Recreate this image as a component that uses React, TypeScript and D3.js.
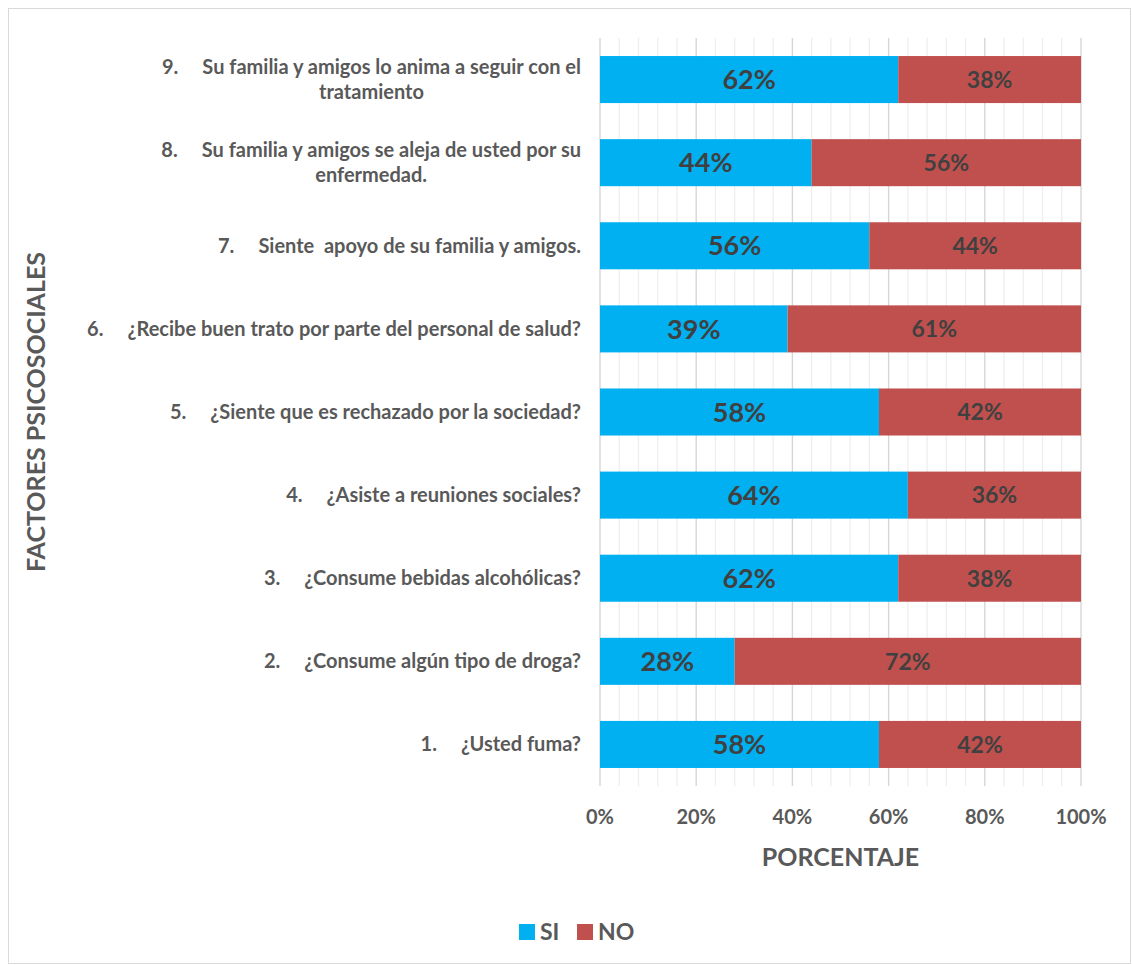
import React, { useEffect, useRef } from "react";
import * as d3 from "d3";

// items numbered 1..9 (bottom to top in the chart)
const itemNumbers = ["1.", "2.", "3.", "4.", "5.", "6.", "7.", "8.", "9."];
const itemLines: string[][] = [
  ["¿Usted fuma?"],
  ["¿Consume algún tipo de droga?"],
  ["¿Consume bebidas alcohólicas?"],
  ["¿Asiste a reuniones sociales?"],
  ["¿Siente que es rechazado por la sociedad?"],
  ["¿Recibe buen trato por parte del personal de salud?"],
  ["Siente  apoyo de su familia y amigos."],
  ["Su familia y amigos se aleja de usted por su", "enfermedad."],
  ["Su familia y amigos lo anima a seguir con el", "tratamiento"],
];
const siValues = [58, 28, 62, 64, 58, 39, 56, 44, 62];
const noValues = [42, 72, 38, 36, 42, 61, 44, 56, 38];
const seriesNames = ["SI", "NO"];
const seriesColors = ["#00B0F0", "#C0504D"];
const xTicks = [0, 20, 40, 60, 80, 100];

const FONT = "Lato, 'Open Sans', sans-serif";

// keep double spaces visible in svg text
const keepSpaces = (s: string) => s.replace(/ {2}/g, " \u00A0");

const App: React.FC = () => {
  const svgRef = useRef<SVGSVGElement | null>(null);

  useEffect(() => {
    const width = 1132;
    const height = 965;
    const plotLeft = 600;
    const plotRight = 1081;
    const plotTop = 38;
    const plotBottom = 786;

    const svg = d3.select(svgRef.current);
    svg.selectAll("*").remove();
    svg.attr("viewBox", [0, 0, width, height]).attr("width", width).attr("height", height);

    // frame
    svg
      .append("rect")
      .attr("x", 8.5)
      .attr("y", 8.5)
      .attr("width", width - 10)
      .attr("height", height - 10)
      .attr("fill", "white")
      .attr("stroke", "#d9d9d9");

    const x = d3.scaleLinear().domain([0, 100]).range([plotLeft, plotRight]);
    const y = d3
      .scaleBand()
      .domain(itemNumbers.slice().reverse())
      .range([plotTop, plotBottom])
      .paddingInner(0.434)
      .paddingOuter(0.217);

    // minor gridlines every 4%
    const minor = d3.range(0, 101, 4).filter((v) => v % 20 !== 0);
    svg
      .append("g")
      .selectAll("line")
      .data(minor)
      .enter()
      .append("line")
      .attr("x1", (d) => x(d))
      .attr("x2", (d) => x(d))
      .attr("y1", plotTop)
      .attr("y2", plotBottom)
      .attr("stroke", "#eeeeee")
      .attr("stroke-width", 1.3);

    // major gridlines
    svg
      .append("g")
      .selectAll("line")
      .data(xTicks)
      .enter()
      .append("line")
      .attr("x1", (d) => x(d))
      .attr("x2", (d) => x(d))
      .attr("y1", plotTop)
      .attr("y2", plotBottom)
      .attr("stroke", "#d6d6d6")
      .attr("stroke-width", 1.4);

    // bars
    const rows = itemNumbers.map((n, i) => ({ n, si: siValues[i], no: noValues[i] }));
    const bars = svg.append("g").selectAll(".bar").data(rows).enter().append("g").attr("class", "bar");

    bars
      .append("rect")
      .attr("x", x(0))
      .attr("y", (d) => y(d.n) as number)
      .attr("width", (d) => x(d.si) - x(0))
      .attr("height", y.bandwidth())
      .attr("fill", seriesColors[0]);

    bars
      .append("rect")
      .attr("x", (d) => x(d.si))
      .attr("y", (d) => y(d.n) as number)
      .attr("width", (d) => x(d.si + d.no) - x(d.si))
      .attr("height", y.bandwidth())
      .attr("fill", seriesColors[1]);

    // data labels
    bars
      .append("text")
      .attr("x", (d) => x(d.si / 2))
      .attr("y", (d) => (y(d.n) as number) + y.bandwidth() / 2)
      .attr("dy", "0.36em")
      .attr("text-anchor", "middle")
      .style("font", `bold 27px ${FONT}`)
      .attr("fill", "#404040")
      .text((d) => `${d.si}%`);

    bars
      .append("text")
      .attr("x", (d) => x(d.si + d.no / 2))
      .attr("y", (d) => (y(d.n) as number) + y.bandwidth() / 2)
      .attr("dy", "0.36em")
      .attr("text-anchor", "middle")
      .style("font", `bold 23px ${FONT}`)
      .attr("fill", "#404040")
      .text((d) => `${d.no}%`);

    // category labels
    const labelRight = 581;
    const labelG = svg
      .append("g")
      .style("font", `bold 20px ${FONT}`)
      .attr("fill", "#595959");
    itemNumbers.forEach((n, i) => {
      const lines = itemLines[i];
      const cy = (y(n) as number) + y.bandwidth() / 2;
      const lh = 25;
      const first = labelG
        .append("text")
        .attr("x", labelRight)
        .attr("y", cy - ((lines.length - 1) * lh) / 2)
        .attr("dy", "0.35em")
        .attr("text-anchor", "end");
      first.append("tspan").text(n);
      first.append("tspan").attr("dx", 24).text(keepSpaces(lines[0]));
      if (lines.length > 1) {
        const w = (first.node() as SVGTextElement).getComputedTextLength() + 24;
        const center = labelRight - w / 2;
        lines.slice(1).forEach((ln, k) => {
          labelG
            .append("text")
            .attr("x", center)
            .attr("y", cy - ((lines.length - 1) * lh) / 2 + (k + 1) * lh)
            .attr("dy", "0.35em")
            .attr("text-anchor", "middle")
            .text(keepSpaces(ln));
        });
      }
    });

    // x tick labels
    svg
      .append("g")
      .selectAll("text")
      .data(xTicks)
      .enter()
      .append("text")
      .attr("x", (d) => x(d))
      .attr("y", 824)
      .attr("text-anchor", "middle")
      .style("font", `bold 20px ${FONT}`)
      .attr("fill", "#595959")
      .text((d) => `${d}%`);

    // axis titles
    svg
      .append("text")
      .attr("x", x(50))
      .attr("y", 866)
      .attr("text-anchor", "middle")
      .style("font", `bold 25px ${FONT}`)
      .attr("fill", "#595959")
      .text("PORCENTAJE");

    svg
      .append("text")
      .attr("transform", `translate(45,${(plotTop + plotBottom) / 2}) rotate(-90)`)
      .attr("text-anchor", "middle")
      .style("font", `bold 25px ${FONT}`)
      .attr("fill", "#595959")
      .text("FACTORES PSICOSOCIALES");

    // legend
    const legend = svg.append("g");
    const lx = [519, 577];
    seriesNames.forEach((name, i) => {
      legend
        .append("rect")
        .attr("x", lx[i])
        .attr("y", 924)
        .attr("width", 16)
        .attr("height", 16)
        .attr("fill", seriesColors[i]);
      legend
        .append("text")
        .attr("x", lx[i] + 21)
        .attr("y", 940)
        .style("font", `bold 23px ${FONT}`)
        .attr("fill", "#595959")
        .text(name);
    });
  }, []);

  return (
    <svg
      ref={svgRef}
      style={{ position: "absolute", left: 0, top: 0, display: "block" }}
    ></svg>
  );
};

export default App;
